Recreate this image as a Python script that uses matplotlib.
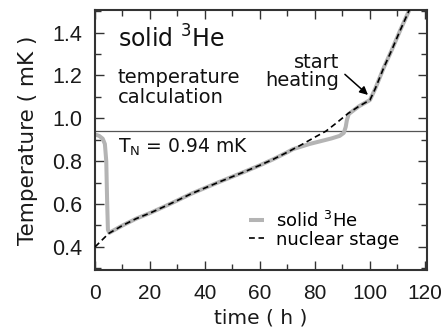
import matplotlib
matplotlib.use("Agg")
import matplotlib.pyplot as plt
from matplotlib.ticker import MultipleLocator

# nuclear stage temperature (mK) vs time (h)
t_stage = [0, 5, 10, 15, 20, 25, 30, 35, 40, 45, 50, 55, 60, 65, 70, 75, 80,
           84, 88, 92, 96, 100, 102, 105, 108, 111, 114.5]
T_stage = [0.400, 0.463, 0.500, 0.532, 0.558, 0.587, 0.617, 0.648, 0.675, 0.702,
           0.728, 0.754, 0.781, 0.810, 0.842, 0.876, 0.912, 0.940, 0.980, 1.022,
           1.056, 1.085, 1.140, 1.235, 1.320, 1.410, 1.510]

# solid 3He temperature (mK) vs time (h)
t_he = [0, 1.5, 2.8, 3.6, 4.1, 4.4, 4.7, 5.2, 10, 15, 20, 25, 30, 35, 40, 45,
        50, 55, 60, 65, 70, 72, 75, 78, 82, 86, 89, 90.5, 91.2, 91.6, 92.3,
        96, 100, 102, 105, 108, 111, 114.5]
T_he = [0.925, 0.918, 0.905, 0.880, 0.800, 0.620, 0.480, 0.466, 0.500, 0.532,
        0.558, 0.587, 0.617, 0.648, 0.675, 0.702, 0.728, 0.754, 0.781, 0.810,
        0.842, 0.856, 0.868, 0.880, 0.893, 0.906, 0.918, 0.932, 0.960, 0.990,
        1.020, 1.056, 1.085, 1.140, 1.235, 1.320, 1.410, 1.510]

T_N = 0.94

dark = "#333333"
plt.rcParams['font.family'] = ['DejaVu Sans']

fig = plt.figure(figsize=(4.46, 3.34), dpi=100)
ax = fig.add_axes([0.213, 0.192, 0.744, 0.778])

ax.axhline(T_N, color="#555555", lw=0.9, zorder=1)
ax.plot(t_he, T_he, color="#b4b4b4", lw=2.9, solid_capstyle="butt",
        label=r"solid $^{3}$He", zorder=2)
ax.plot(t_stage, T_stage, color="black", lw=1.2, dashes=(3.5, 2.2),
        label="nuclear stage", zorder=3)

ax.set_xlim(0, 120.7)
ax.set_ylim(0.293, 1.505)
ax.xaxis.set_major_locator(MultipleLocator(20))
ax.xaxis.set_minor_locator(MultipleLocator(10))
ax.yaxis.set_major_locator(MultipleLocator(0.2))
ax.yaxis.set_minor_locator(MultipleLocator(0.1))
ax.yaxis.set_major_formatter(matplotlib.ticker.FormatStrFormatter("%.1f"))

ax.tick_params(which="both", direction="in", top=True, right=True,
               color=dark, width=1.0)
ax.tick_params(which="major", length=6.5)
ax.tick_params(which="minor", length=4)
ax.tick_params(axis="x", pad=10)
ax.tick_params(axis="y", pad=9)
for lab in ax.get_xticklabels():
    lab.set_family("Liberation Sans")
    lab.set_fontsize(15)
    lab.set_color("#1a1a1a")
for lab in ax.get_yticklabels():
    lab.set_family("Liberation Sans")
    lab.set_fontsize(15.5)
    lab.set_color("#1a1a1a")
for s in ax.spines.values():
    s.set_color(dark)
    s.set_linewidth(1.5)

ax.set_xlabel("time ( h )", fontsize=14.5, color="#1a1a1a", labelpad=4)
ax.set_ylabel("Temperature ( mK )", fontsize=15.5, color="#1a1a1a", labelpad=10)

ax.text(0.069, 0.854, r"solid $^{3}$He", transform=ax.transAxes,
        fontsize=17, va="baseline", color="#111111")
ax.text(0.069, 0.718, "temperature", transform=ax.transAxes,
        fontsize=14, va="baseline", color="#111111")
ax.text(0.069, 0.642, "calculation", transform=ax.transAxes,
        fontsize=14, va="baseline", color="#111111")
ax.text(0.069, 0.45, r"T$_\mathrm{N}$ = 0.94 mK", transform=ax.transAxes,
        fontsize=13.5, va="baseline", color="#111111")
ax.text(0.735, 0.777, "start", transform=ax.transAxes, ha="right",
        fontsize=14, va="baseline", color="#111111")
ax.text(0.735, 0.706, "heating", transform=ax.transAxes, ha="right",
        fontsize=14, va="baseline", color="#111111")
ax.annotate("", xy=(99.3, 1.109), xytext=(90.9, 1.205),
            arrowprops=dict(arrowstyle="-|>", color="black", lw=1.1,
                            mutation_scale=12, shrinkA=0, shrinkB=0))

ax.legend(loc="upper left", bbox_to_anchor=(0.465, 0.228), frameon=False,
          fontsize=13, handlelength=0.8, handletextpad=0.7,
          labelspacing=0.0, borderpad=0, borderaxespad=0)

fig.savefig("out.png", dpi=100)
